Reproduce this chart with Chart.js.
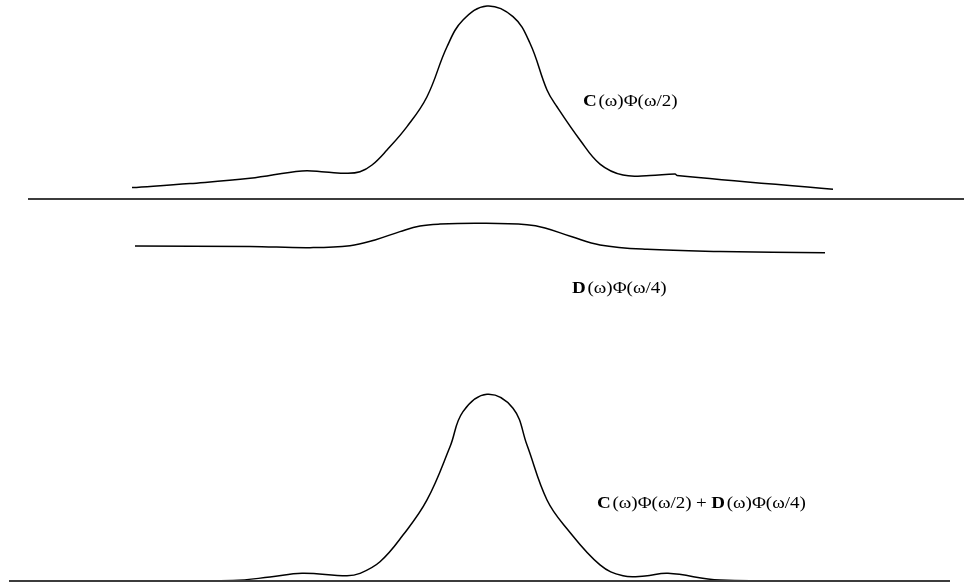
<!DOCTYPE html>
<html>
<head>
<meta charset="utf-8">
<script src="https://cdn.jsdelivr.net/npm/chart.js@4.4.1/dist/chart.umd.min.js"></script>
<style>
  html, body { margin: 0; padding: 0; background: #fff; }
  #wrap { width: 964px; height: 586px; position: relative; }
</style>
</head>
<body>
<div id="wrap"><canvas id="chart"></canvas></div>
<script>
// frequency axis (omega) and the three curves
const cOmega = [-3.55, -2.97, -2.37, -1.85, -1.62, -1.40, -1.27, -1.15, -1.00, -0.80, -0.60, -0.40, -0.24, 0.00, 0.26, 0.43, 0.60, 0.70, 0.93, 1.13, 1.36, 1.63, 1.88, 1.90, 3.46];
const cValues = [0.059, 0.080, 0.107, 0.145, 0.140, 0.133, 0.141, 0.176, 0.254, 0.375, 0.530, 0.789, 0.927, 1.000, 0.945, 0.807, 0.565, 0.478, 0.306, 0.181, 0.124, 0.122, 0.130, 0.122, 0.050];

const dOmega = [-3.52, -2.37, -1.77, -1.37, -1.12, -0.87, -0.67, -0.47, -0.07, 0.40, 0.58, 0.85, 1.13, 1.60, 2.33, 3.38];
const dValues = [-0.244, -0.246, -0.252, -0.242, -0.212, -0.169, -0.140, -0.130, -0.126, -0.133, -0.150, -0.196, -0.238, -0.261, -0.272, -0.278];

const sOmega = [-3.67, -2.54, -2.17, -1.85, -1.40, -1.27, -1.07, -0.84, -0.60, -0.37, -0.24, 0.00, 0.26, 0.40, 0.60, 0.80, 1.13, 1.36, 1.58, 1.81, 2.33, 3.70];
const sValues = [0.000, 0.003, 0.021, 0.041, 0.028, 0.041, 0.103, 0.246, 0.434, 0.719, 0.907, 1.000, 0.925, 0.728, 0.434, 0.280, 0.086, 0.028, 0.027, 0.041, 0.005, 0.000];

// extent of the two horizontal axes
const topAxisOmega = [-4.59, 4.77];
const bottomAxisOmega = [-4.78, 4.63];

// labels: [bold letter, rest], anchor omega, anchor value, axis
const labelParts = [
  [['C', '(ω)Φ(ω/2)']],
  [['D', '(ω)Φ(ω/4)']],
  [['C', '(ω)Φ(ω/2)'], ['D', '(ω)Φ(ω/4)']]
];
const labelOmega = [0.96, 0.85, 1.10];
const labelValue = [0.507, -0.466, 0.413];
const labelAxis = ['yC', 'yC', 'yS'];

const pts = (xs, ys) => xs.map((x, i) => ({ x: x, y: ys[i] }));

const curve = (data, axis) => ({
  data: data,
  yAxisID: axis,
  borderColor: '#000',
  borderWidth: 1.5,
  pointRadius: 0,
  fill: false,
  tension: 0.4
});

const axisLine = (xs, axis) => ({
  data: pts(xs, [0, 0]),
  yAxisID: axis,
  borderColor: '#3c3c3c',
  borderWidth: 2,
  pointRadius: 0,
  fill: false
});

const labelPlugin = {
  id: 'formulaLabels',
  afterDatasetsDraw(chart) {
    const ctx = chart.ctx;
    const sx = 1.12;
    const reg = '17px "Liberation Serif", "Times New Roman", serif';
    const bold = 'bold 17px "Liberation Serif", "Times New Roman", serif';
    ctx.save();
    ctx.fillStyle = '#000';
    ctx.textBaseline = 'middle';
    labelParts.forEach((groups, i) => {
      const px = chart.scales.x.getPixelForValue(labelOmega[i]);
      const py = chart.scales[labelAxis[i]].getPixelForValue(labelValue[i]);
      ctx.save();
      ctx.translate(px, py);
      ctx.scale(sx, 1);
      let x = 0;
      groups.forEach((g, k) => {
        if (k > 0) {
          ctx.font = reg;
          ctx.fillText('+', x + 4, 0);
          x += ctx.measureText('+').width + 8;
        }
        ctx.font = bold;
        ctx.fillText(g[0], x, 0);
        x += ctx.measureText(g[0]).width + 1.5;
        ctx.font = reg;
        ctx.fillText(g[1], x, 0);
        x += ctx.measureText(g[1]).width;
      });
      ctx.restore();
    });
    ctx.restore();
  }
};

new Chart(document.getElementById('chart').getContext('2d'), {
  type: 'line',
  data: {
    datasets: [
      axisLine(topAxisOmega, 'yC'),
      axisLine(bottomAxisOmega, 'yS'),
      curve(pts(cOmega, cValues), 'yC'),
      curve(pts(dOmega, dValues), 'yC'),
      curve(pts(sOmega, sValues), 'yS')
    ]
  },
  options: {
    responsive: true,
    maintainAspectRatio: false,
    animation: false,
    layout: { padding: 0 },
    plugins: { legend: { display: false }, tooltip: { enabled: false } },
    scales: {
      x: { type: 'linear', min: -4.87, max: 4.77, display: false },
      yC: { type: 'linear', min: -2.0052, max: 1.0311, display: false },
      yS: { type: 'linear', min: -0.0268, max: 3.112, display: false }
    }
  },
  plugins: [labelPlugin]
});
</script>
</body>
</html>
